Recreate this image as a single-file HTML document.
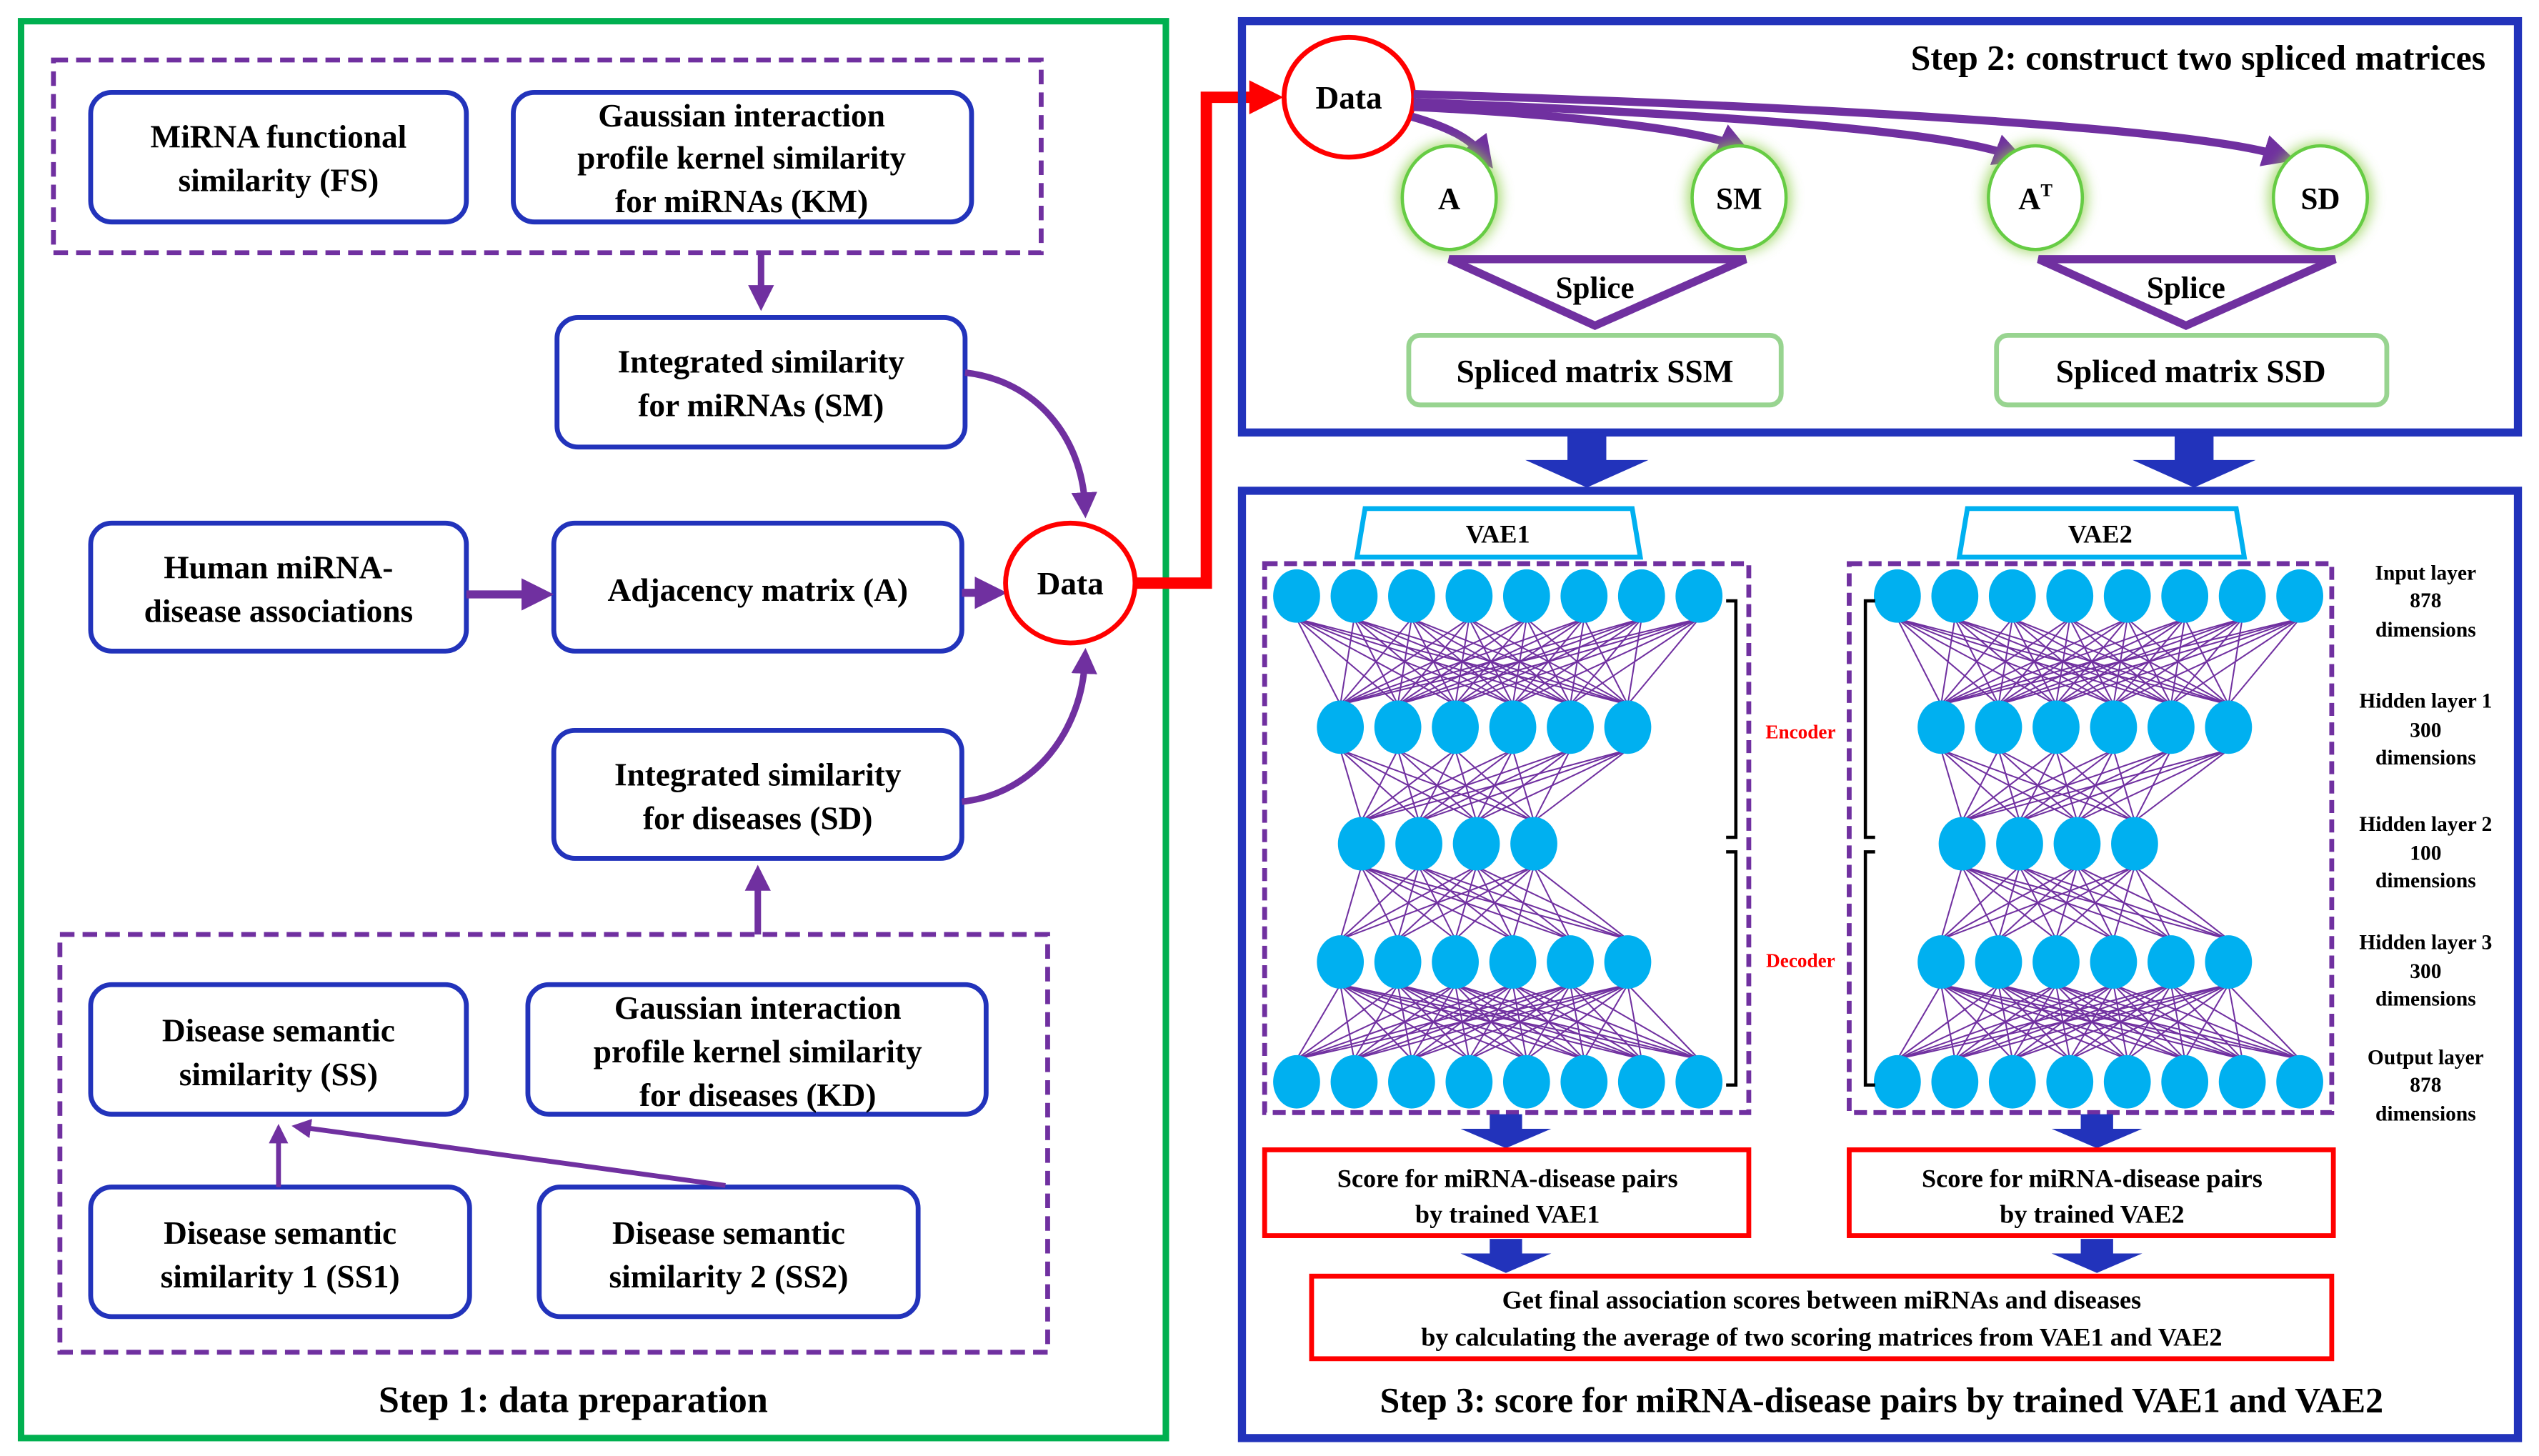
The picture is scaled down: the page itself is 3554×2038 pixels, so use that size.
<!DOCTYPE html>
<html><head><meta charset="utf-8"><style>
html,body{margin:0;padding:0;background:#fff;}
svg{display:block;}
svg text{font-family:"Liberation Serif","DejaVu Serif","Times New Roman",serif;font-weight:bold;fill:#000;}
</style></head><body>
<svg id="s" width="3554" height="2038" viewBox="0 0 1568 899" xmlns="http://www.w3.org/2000/svg" font-family="'Liberation Serif','DejaVu Serif',serif">
<defs>
<marker id="pa" markerWidth="4" markerHeight="4" refX="2" refY="2" orient="auto" markerUnits="strokeWidth"><path d="M0,0 L4,2 L0,4 z" fill="#7030a0"/></marker>
<marker id="ra" markerWidth="3" markerHeight="3" refX="1.5" refY="1.5" orient="auto" markerUnits="strokeWidth"><path d="M0,0 L3,1.5 L0,3 z" fill="#ff0000"/></marker>
<filter id="glow" x="-50%" y="-50%" width="200%" height="200%"><feGaussianBlur stdDeviation="4"/></filter>
</defs>
<rect width="1568" height="899" fill="#fff"/>
<rect x="13" y="13" width="707" height="875" fill="none" stroke="#00b050" stroke-width="4"/>
<rect x="33" y="37" width="610" height="119" fill="none" stroke="#7030a0" stroke-width="3" stroke-dasharray="9,5"/>
<rect x="37" y="577" width="610" height="258" fill="none" stroke="#7030a0" stroke-width="3" stroke-dasharray="9,5"/>
<g fill="#fff" stroke="#2233bb" stroke-width="3">
<rect x="56" y="57" width="232" height="80" rx="13"/>
<rect x="317" y="57" width="283" height="80" rx="13"/>
<rect x="344" y="196" width="252" height="80" rx="13"/>
<rect x="56" y="323" width="232" height="79" rx="13"/>
<rect x="342" y="323" width="252" height="79" rx="13"/>
<rect x="342" y="451" width="252" height="79" rx="13"/>
<rect x="56" y="608" width="232" height="80" rx="13"/>
<rect x="326" y="608" width="283" height="80" rx="13"/>
<rect x="56" y="733" width="234" height="80" rx="13"/>
<rect x="333" y="733" width="234" height="80" rx="13"/>
</g>
<g font-size="20" text-anchor="middle">
<text x="172" y="91">MiRNA functional</text><text x="172" y="118">similarity (FS)</text>
<text x="458" y="78">Gaussian interaction</text><text x="458" y="104">profile kernel similarity</text><text x="458" y="131">for miRNAs (KM)</text>
<text x="470" y="230">Integrated similarity</text><text x="470" y="257">for miRNAs (SM)</text>
<text x="172" y="357">Human miRNA-</text><text x="172" y="384">disease associations</text>
<text x="468" y="371">Adjacency matrix (A)</text>
<text x="468" y="485">Integrated similarity</text><text x="468" y="512">for diseases (SD)</text>
<text x="172" y="643">Disease semantic</text><text x="172" y="670">similarity (SS)</text>
<text x="468" y="629">Gaussian interaction</text><text x="468" y="656">profile kernel similarity</text><text x="468" y="683">for diseases (KD)</text>
<text x="173" y="768">Disease semantic</text><text x="173" y="795">similarity 1 (SS1)</text>
<text x="450" y="768">Disease semantic</text><text x="450" y="795">similarity 2 (SS2)</text>
</g>
<text x="354" y="872" font-size="23" text-anchor="middle">Step 1: data preparation</text>
<g stroke="#7030a0" fill="none" marker-end="url(#pa)">
<line x1="470" y1="156" x2="470" y2="184" stroke-width="4"/>
<line x1="468" y1="577" x2="468" y2="542" stroke-width="4"/>
<line x1="288" y1="367" x2="332" y2="367" stroke-width="5"/>
<line x1="594" y1="366" x2="612" y2="366" stroke-width="5"/>
<path d="M596,230 C640,235 668,270 670,312" stroke-width="4"/>
<path d="M594,495 C640,490 668,450 670,408" stroke-width="4"/>
<line x1="172" y1="733" x2="172" y2="700" stroke-width="3"/>
<line x1="448" y1="732" x2="186" y2="696" stroke-width="3"/>
</g>
<ellipse cx="661" cy="360" rx="40" ry="37" fill="#fff" stroke="#ff0000" stroke-width="3"/>
<text x="661" y="367" font-size="20" text-anchor="middle">Data</text>
<polyline points="701,360 745,360 745,60 782,60" fill="none" stroke="#ff0000" stroke-width="7" marker-end="url(#ra)"/>
<rect x="767" y="13" width="788" height="254" fill="none" stroke="#2233bb" stroke-width="5"/>
<text x="1535" y="43" font-size="22" text-anchor="end">Step 2: construct two spliced matrices</text>
<ellipse cx="833" cy="60" rx="40" ry="37" fill="#fff" stroke="#ff0000" stroke-width="3"/>
<text x="833" y="67" font-size="20" text-anchor="middle">Data</text>
<g stroke="#7030a0" fill="none" stroke-width="5" marker-end="url(#pa)">
<path d="M872,72 C900,80 910,88 916,96"/>
<path d="M873,66 C960,70 1050,80 1072,90"/>
<path d="M873,63 C1050,70 1200,80 1242,96"/>
<path d="M873,58 C1100,65 1350,78 1408,96"/>
</g>
<g>
<ellipse cx="895" cy="122" rx="32" ry="34" fill="#92d050" filter="url(#glow)" opacity="0.8"/>
<ellipse cx="1074" cy="122" rx="32" ry="34" fill="#92d050" filter="url(#glow)" opacity="0.8"/>
<ellipse cx="1257" cy="122" rx="32" ry="34" fill="#92d050" filter="url(#glow)" opacity="0.8"/>
<ellipse cx="1433" cy="122" rx="32" ry="34" fill="#92d050" filter="url(#glow)" opacity="0.8"/>
<g fill="#fff" stroke="#66cc44" stroke-width="2">
<ellipse cx="895" cy="122" rx="29" ry="32"/><ellipse cx="1074" cy="122" rx="29" ry="32"/>
<ellipse cx="1257" cy="122" rx="29" ry="32"/><ellipse cx="1433" cy="122" rx="29" ry="32"/>
</g>
</g>
<g font-size="19" text-anchor="middle">
<text x="895" y="129">A</text><text x="1074" y="129">SM</text>
<text x="1257" y="129">A<tspan font-size="11" dy="-8">T</tspan></text><text x="1433" y="129">SD</text>
</g>
<g fill="none" stroke="#7030a0" stroke-width="5">
<polygon points="895,160 1078,160 985,201"/>
<polygon points="1259,160 1442,160 1350,201"/>
</g>
<g font-size="19" text-anchor="middle"><text x="985" y="184">Splice</text><text x="1350" y="184">Splice</text></g>
<g fill="#fff" stroke="#98d490" stroke-width="3">
<rect x="870" y="207" width="230" height="43" rx="7"/><rect x="1233" y="207" width="241" height="43" rx="7"/>
</g>
<g font-size="20" text-anchor="middle"><text x="985" y="236">Spliced matrix SSM</text><text x="1353" y="236">Spliced matrix SSD</text></g>
<g fill="#2233bb">
<polygon points="968,267 992,267 992,284 1018,284 980,301 942,284 968,284"/>
<polygon points="1343,267 1367,267 1367,284 1393,284 1355,301 1317,284 1343,284"/>
</g>
<rect x="767" y="303" width="788" height="585" fill="none" stroke="#2233bb" stroke-width="5"/>
<g fill="#fff" stroke="#00b0f0" stroke-width="3">
<polygon points="843,314 1008,314 1013,344 838,344"/>
<polygon points="1215,314 1381,314 1386,344 1210,344"/>
</g>
<g font-size="16" text-anchor="middle"><text x="925" y="335">VAE1</text><text x="1297" y="335">VAE2</text></g>
<rect x="781" y="348" width="299" height="339" fill="none" stroke="#7030a0" stroke-width="3" stroke-dasharray="8,4"/>
<rect x="1142" y="348" width="298" height="339" fill="none" stroke="#7030a0" stroke-width="3" stroke-dasharray="8,4"/>
<g id="nets"></g>
<g fill="none" stroke="#000" stroke-width="2">
<polyline points="1066,371 1072,371 1072,517 1066,517"/>
<polyline points="1066,526 1072,526 1072,670 1066,670"/>
<polyline points="1158,371 1152,371 1152,517 1158,517"/>
<polyline points="1158,526 1152,526 1152,670 1158,670"/>
</g>
<g font-size="12" text-anchor="middle"><text x="1112" y="456" style="fill:#f00">Encoder</text><text x="1112" y="597" style="fill:#f00">Decoder</text></g>
<g font-size="13" text-anchor="middle">
<text x="1498" y="358">Input layer</text><text x="1498" y="375">878</text><text x="1498" y="393">dimensions</text>
<text x="1498" y="437">Hidden layer 1</text><text x="1498" y="455">300</text><text x="1498" y="472">dimensions</text>
<text x="1498" y="513">Hidden layer 2</text><text x="1498" y="531">100</text><text x="1498" y="548">dimensions</text>
<text x="1498" y="586">Hidden layer 3</text><text x="1498" y="604">300</text><text x="1498" y="621">dimensions</text>
<text x="1498" y="657">Output layer</text><text x="1498" y="674">878</text><text x="1498" y="692">dimensions</text>
</g>
<g fill="#2233bb">
<polygon points="920,688 940,688 940,697 958,697 930,709 902,697 920,697"/>
<polygon points="1285,688 1305,688 1305,697 1323,697 1295,709 1267,697 1285,697"/>
<polygon points="920,765 940,765 940,774 958,774 930,786 902,774 920,774"/>
<polygon points="1285,765 1305,765 1305,774 1323,774 1295,786 1267,774 1285,774"/>
</g>
<g fill="#fff" stroke="#ff0000" stroke-width="3">
<rect x="781" y="710" width="299" height="53"/><rect x="1142" y="710" width="299" height="53"/>
<rect x="810" y="788" width="630" height="51"/>
</g>
<g font-size="16" text-anchor="middle">
<text x="931" y="733">Score for miRNA-disease pairs</text><text x="931" y="755">by trained VAE1</text>
<text x="1292" y="733">Score for miRNA-disease pairs</text><text x="1292" y="755">by trained VAE2</text>
<text x="1125" y="808">Get final association scores between miRNAs and diseases</text>
<text x="1125" y="831">by calculating the average of two scoring matrices from VAE1 and VAE2</text>
</g>
<text x="1162" y="872" font-size="22" text-anchor="middle">Step 3: score for miRNA-disease pairs by trained VAE1 and VAE2</text>
</svg>
<script>
(function(){
var NS="http://www.w3.org/2000/svg",g=document.getElementById("nets");
var ys=[368,449,521,594,668],ns=[8,6,4,6,8],cs=[925,916.5,894,916.5,925];
function xs(n,c){var a=[],st=35.5,w=(n-1)*st;for(var i=0;i<n;i++)a.push(c-w/2+i*st);return a;}
[0,371].forEach(function(off){
 var L=ys.map(function(y,k){return xs(ns[k],cs[k]+off);});
 for(var k=0;k<4;k++){L[k].forEach(function(x1){L[k+1].forEach(function(x2){
  var l=document.createElementNS(NS,"line");l.setAttribute("x1",x1);l.setAttribute("y1",ys[k]+14);
  l.setAttribute("x2",x2);l.setAttribute("y2",ys[k+1]-14);l.setAttribute("stroke","#7030a0");l.setAttribute("stroke-width","0.9");g.appendChild(l);});});}
 L.forEach(function(row,k){row.forEach(function(x){var e=document.createElementNS(NS,"ellipse");
  e.setAttribute("cx",x);e.setAttribute("cy",ys[k]);e.setAttribute("rx",14.5);e.setAttribute("ry",16.5);e.setAttribute("fill","#00b0f0");g.appendChild(e);});});
});
})();
</script>
</body></html>
